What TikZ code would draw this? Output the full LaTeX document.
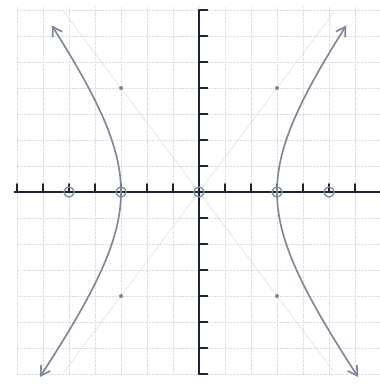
\documentclass[tikz,border=0pt]{standalone}
\usepackage{xcolor}
\usepackage{tikz}
\usetikzlibrary{arrows.meta}
\definecolor{Ink}{HTML}{1C2433}
\definecolor{Pencil}{HTML}{7E8796}
\definecolor{Paper}{HTML}{DDDFE2}

\begin{document}
\begin{tikzpicture}[x=1cm,y=1cm,
  gridline/.style={Paper,line width=0.5pt,dash pattern=on 3pt off 1pt},
  axis/.style={Ink,line width=3pt},
  tick/.style={Ink,line width=2.4pt,line cap=round},
  curve/.style={Pencil,line width=1.8pt,{Straight Barb[length=10pt,width=12pt]}-{Straight Barb[length=10pt,width=12pt]}},
  guide/.style={Pencil!30,line width=0.5pt},
  ring/.style={circle,draw=Pencil,line width=1.4pt,minimum size=11pt,inner sep=0pt}
]
\fill[white] (-7.654,-7.538) rectangle (6.96,7.385);
\useasboundingbox (-7.654,-7.538) rectangle (6.96,7.385);
% grid
\foreach \i in {-7,...,7} {
  \draw[gridline] (\i,-7) -- (\i,7.1);
  \draw[gridline] (-7,\i) -- (7,\i);
}
% asymptotes
\draw[guide] (-5.2,6.93) -- (5.2,-6.93);
\draw[guide] (-5.2,-6.93) -- (5.2,6.93);
% axes
\draw[axis] (-7.1,0) -- (6.96,0);
\draw[axis] (0,-7) -- (0,7);
\foreach \i in {-7,...,-1,1,2,...,6}
  \draw[tick] (\i,0) -- (\i,0.3);
\foreach \i in {-7,...,-1,1,2,...,7}
  \draw[tick] (0,\i) -- (0.32,\i);
% branches
\draw[curve] plot[domain=-1.34:1.25,smooth,samples=40] ({3*cosh(\x)},{4*sinh(\x)});
\draw[curve] plot[domain=-1.34:1.25,smooth,samples=40] ({-3*cosh(\x)},{4*sinh(\x)});
% vertices, foci, box corners
\node[ring] (fl) at (-5,0) {};
\node[ring] (vl) at (-3,0) {};
\node[ring] (o) at (0,0) {};
\node[ring] (vr) at (3,0) {};
\node[ring] (fr) at (5,0) {};
\fill[Pencil] (-3,4) circle (2.2pt);
\fill[Pencil] (3,4) circle (2.2pt);
\fill[Pencil] (-3,-4) circle (2.2pt);
\fill[Pencil] (3,-4) circle (2.2pt);
\end{tikzpicture}
\end{document}
